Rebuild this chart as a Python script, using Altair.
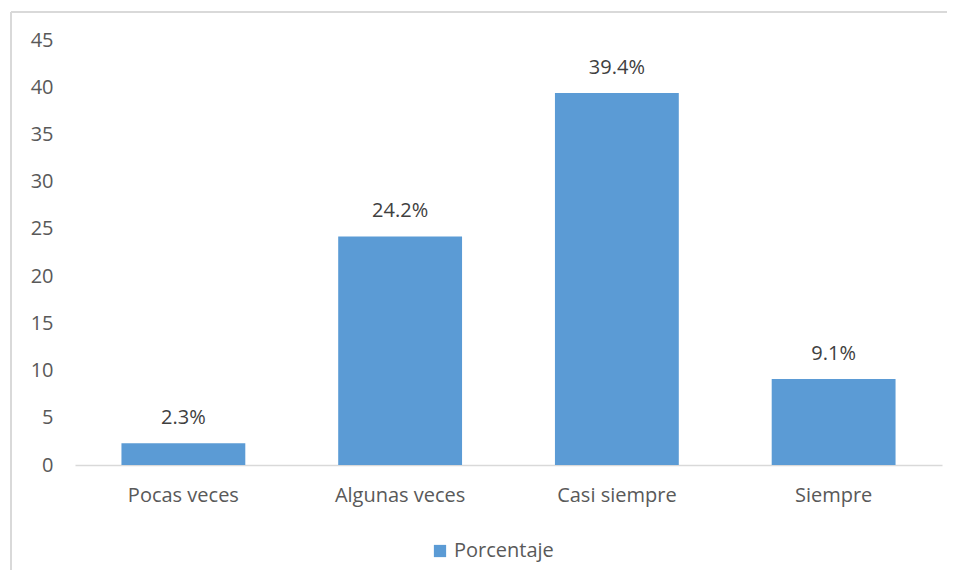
import altair as alt
import pandas as pd

categories = ["Pocas veces", "Algunas veces", "Casi siempre", "Siempre"]
values = [2.3, 24.2, 39.4, 9.1]
labels = ["2.3%", "24.2%", "39.4%", "9.1%"]
series = ["Porcentaje"] * 4

df = pd.DataFrame({"cat": categories, "val": values, "lab": labels, "serie": series})

FONT = "Open Sans"
GREY = "#595959"
FS = 20

x = alt.X("cat:N", sort=categories, title=None,
          scale=alt.Scale(paddingInner=0.4286, paddingOuter=0.2143),
          axis=alt.Axis(labelAngle=0, ticks=False, domainColor="#d9d9d9", domainWidth=1.3,
                        labelPadding=20, labelFontSize=FS, labelColor=GREY, labelFont=FONT))
y = alt.Y("val:Q", title=None,
          scale=alt.Scale(domain=[0, 45], nice=False),
          axis=alt.Axis(values=list(range(0, 50, 5)), grid=False, ticks=False, domain=False,
                        labelPadding=22, labelFontSize=FS, labelColor=GREY, labelFont=FONT))

bars = alt.Chart(df).mark_bar().encode(
    x=x, y=y,
    color=alt.Color("serie:N", title=None,
                    scale=alt.Scale(domain=["Porcentaje"], range=["#5B9BD5"]),
                    legend=alt.Legend(orient="none", legendX=355, legendY=501,
                                      symbolType="square", symbolSize=150, symbolStrokeWidth=0,
                                      labelFontSize=FS, labelColor=GREY, labelFont=FONT,
                                      symbolOffset=0, labelOffset=4))
)

text = alt.Chart(df).mark_text(baseline="middle", dy=-25, fontSize=FS, color="#404040", font=FONT).encode(
    x=alt.X("cat:N", sort=categories), y="val:Q", text="lab:N"
)

left_border = alt.Chart(df).mark_rule(color="#d9d9d9", strokeWidth=1.5).encode(
    x=alt.value(-64), y=alt.value(-28), y2=alt.value(545)
)
top_border = alt.Chart(df).mark_rule(color="#d9d9d9", strokeWidth=1.5).encode(
    x=alt.value(-64), x2=alt.value(885), y=alt.value(-28)
)

chart = alt.layer(bars, text, left_border, top_border).properties(
    width=867, height=425,
    autosize=alt.AutoSizeParams(type="none"),
    padding={"left": 67, "top": 32, "right": 5, "bottom": 105},
    background="white",
).configure_view(stroke=None)

chart.save("out.html", embed_options={"renderer": "svg", "actions": False})
